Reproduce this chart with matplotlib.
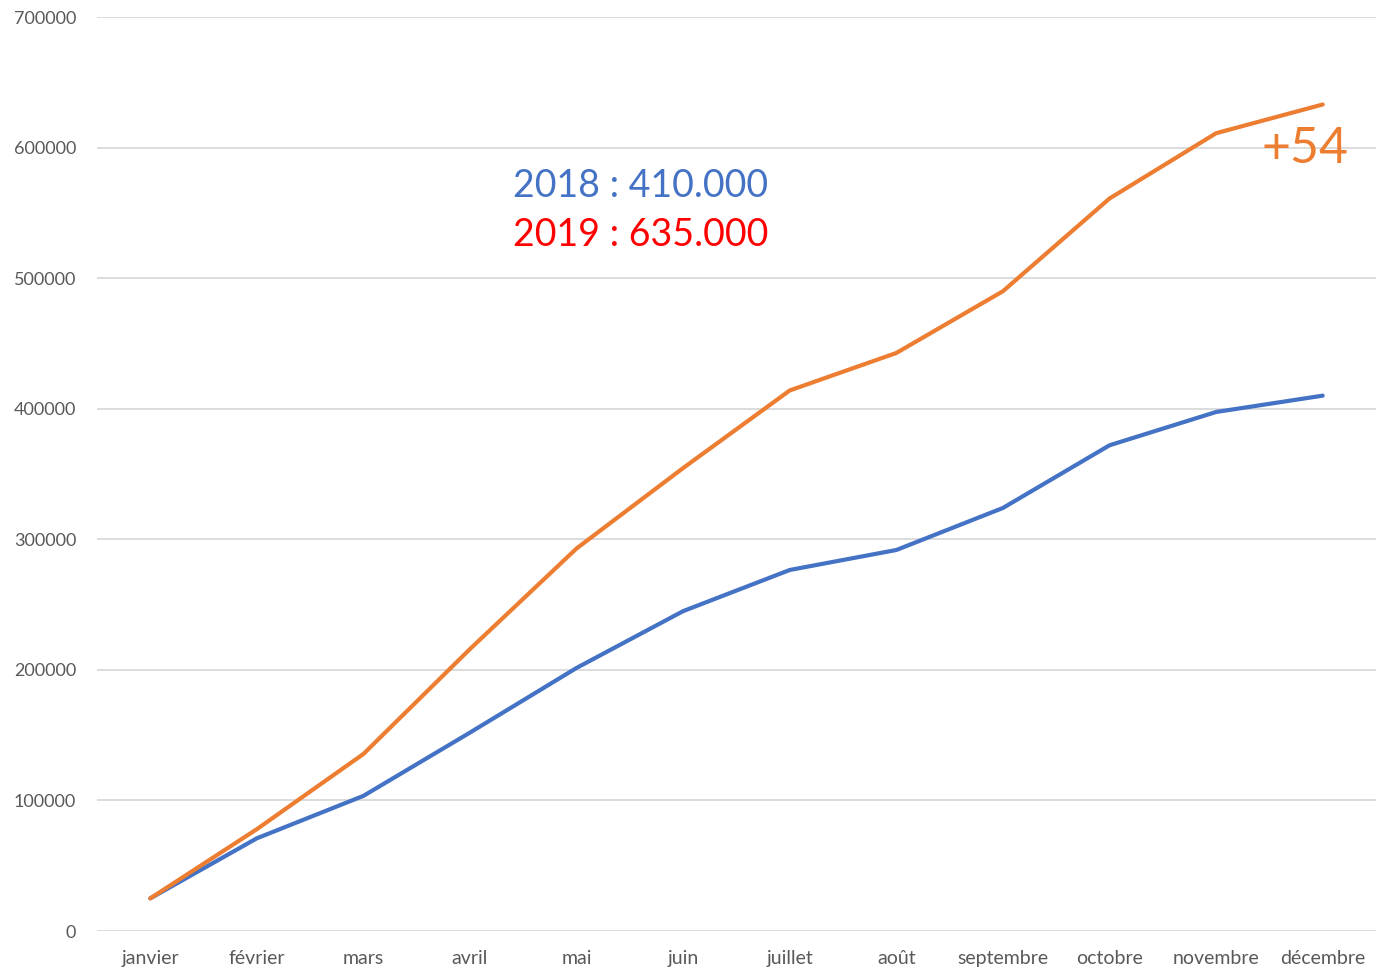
import matplotlib
matplotlib.use("Agg")
import matplotlib.pyplot as plt

months = ["janvier", "février", "mars", "avril", "mai", "juin", "juillet",
          "août", "septembre", "octobre", "novembre", "décembre"]
y2018 = [25000, 71000, 103500, 152000, 201500, 245000, 276500, 291800,
         324000, 372000, 397500, 410000]
y2019 = [25000, 78000, 135600, 216000, 293000, 354600, 414000, 442700,
         490000, 561000, 611000, 633000]
yticks = [0, 100000, 200000, 300000, 400000, 500000, 600000, 700000]

plt.rcParams['font.family'] = ['Lato', 'DejaVu Sans']

fig = plt.figure(figsize=(13.88, 9.74), dpi=100)
ax = fig.add_axes([97/1388, (974-931)/974, (1376-97)/1388, (931-17)/974])

x = list(range(len(months)))
ax.plot(x, y2018, color="#4472C4", lw=3.0, solid_capstyle="round", zorder=3)
ax.plot(x, y2019, color="#ED7D31", lw=3.0, solid_capstyle="round", zorder=3)

ax.set_xlim(-0.5, len(months) - 0.5)
ax.set_ylim(0, 700000)
ax.set_yticks(yticks)
ax.set_yticklabels([str(v) for v in yticks])
ax.set_xticks(x)
ax.set_xticklabels(months)
ax.grid(axis="y", color="#D9D9D9", lw=1.3)
ax.set_axisbelow(True)
for s in ax.spines.values():
    s.set_visible(False)
ax.tick_params(axis="both", length=0, colors="#595959")
ax.tick_params(axis="x", pad=14, labelsize=14)
ax.tick_params(axis="y", pad=15, labelsize=13)

ax.text(3.4, 570500, "2018 : 410.000", color="#4472C4", fontsize=27,
        ha="left", va="center")
ax.text(3.4, 533000, "2019 : 635.000", color="#FF0000", fontsize=27,
        ha="left", va="center")
ax.text(10.83, 599000, "+54", color="#ED7D31", fontsize=36,
        ha="center", va="center")

fig.savefig("out.png", dpi=100)
